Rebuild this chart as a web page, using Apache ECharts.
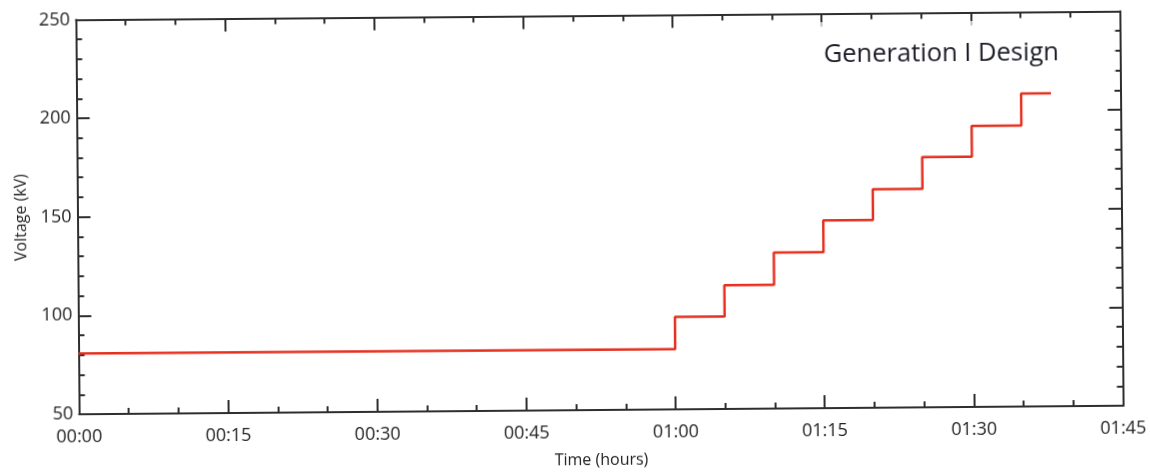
<!DOCTYPE html>
<html>
<head>
<meta charset="utf-8">
<script src="https://cdn.jsdelivr.net/npm/echarts@6/dist/echarts.min.js"></script>
<style>
  html, body { margin: 0; padding: 0; background: #fff; overflow: hidden; }
  #chart {
    width: 1150px; height: 473px;
    /* the printed sheet sits a little askew */
    transform: rotate(-0.47deg);
    transform-origin: 599.5px 214.4px;
  }
</style>
</head>
<body>
<div id="chart"></div>
<script>
// Elapsed time (minutes) and applied voltage (kV): flat hold, then 5-minute steps
const timeMin   = [0,    60,   60,   65,   65,    70,    70,    75,    75,    80,    80,    85,    85,    90,    90,    95,    95,    98];
const voltageKV = [80.8, 80.6, 96.9, 96.9, 112.7, 112.7, 129.1, 129.1, 145.1, 145.1, 160.8, 160.8, 176.9, 176.9, 192.4, 192.4, 208.6, 208.6];
const xTickMinutes = 15;
const yTickKV = 50;
const xLabel = 'Time (hours)';
const yLabel = 'Voltage (kV)';
const annotation = 'Generation I Design';

const points = timeMin.map((t, i) => [t, voltageKV[i]]);

function hhmm(m) {
  const h = Math.floor(m / 60), mm = Math.round(m % 60);
  return String(h).padStart(2, '0') + ':' + String(mm).padStart(2, '0');
}

const axisColor = '#2e2e2e';
const labelFont = { fontFamily: 'Open Sans', fontSize: 18, color: '#222222' };
const titleFont = { fontFamily: 'Open Sans', fontSize: 16, color: '#222222' };

function frameAxis(extra) {
  return Object.assign({
    type: 'value',
    axisLine: { show: true, onZero: false, lineStyle: { color: axisColor, width: 2 } },
    axisTick: { show: true, inside: true, length: 13, lineStyle: { color: axisColor, width: 2 } },
    splitLine: { show: false }
  }, extra);
}

const xCommon = { min: 0, max: 105, interval: xTickMinutes,
  minorTick: { show: true, splitNumber: 3, length: 6, lineStyle: { color: axisColor, width: 2 } } };
const yCommon = { min: 50, max: 250, interval: yTickKV,
  minorTick: { show: true, splitNumber: 5, length: 6, lineStyle: { color: axisColor, width: 2 } } };

const chart = echarts.init(document.getElementById('chart'), null, { renderer: 'canvas' });
chart.setOption({
  backgroundColor: '#fff',
  animation: false,
  grid: { left: 77.5, right: 28.5, top: 15.4, bottom: 59.6 },
  xAxis: [
    frameAxis(Object.assign({}, xCommon, {
      position: 'bottom',
      name: xLabel, nameLocation: 'middle', nameGap: 42, nameTextStyle: titleFont,
      axisLabel: Object.assign({ margin: 14, formatter: v => hhmm(v) }, labelFont)
    })),
    frameAxis(Object.assign({}, xCommon, { position: 'top', axisLabel: { show: false } }))
  ],
  yAxis: [
    frameAxis(Object.assign({}, yCommon, {
      position: 'left',
      name: yLabel, nameLocation: 'middle', nameGap: 47, nameRotate: 90, nameTextStyle: titleFont,
      axisLabel: Object.assign({ margin: 6, padding: [4, 0, 0, 0] }, labelFont)
    })),
    frameAxis(Object.assign({}, yCommon, { position: 'right', axisLabel: { show: false } }))
  ],
  series: [{
    type: 'line',
    data: points,
    showSymbol: false,
    lineStyle: { color: '#e5301f', width: 2.5 },
    z: 3
  }],
  graphic: [{
    type: 'rect',
    shape: { x: 770, y: 24, width: 347, height: 62 },
    style: { fill: 'rgba(255,255,255,0.7)' },
    z: 100
  }, {
    type: 'text',
    left: 825, top: 44,
    z: 101,
    style: {
      text: annotation,
      font: '25.5px "Open Sans", "Noto Sans", sans-serif',
      fill: '#1b1c26'
    }
  }]
});
</script>
</body>
</html>
